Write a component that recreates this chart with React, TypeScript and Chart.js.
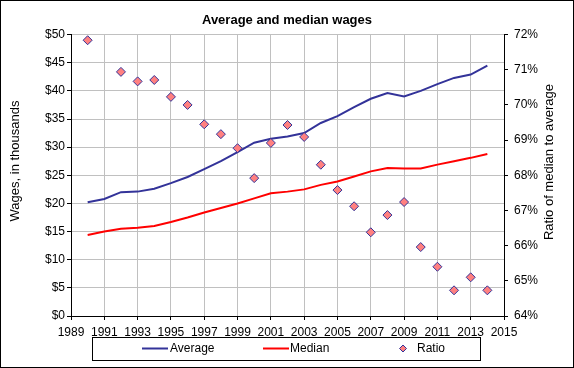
import React, { useEffect, useRef } from 'react';
import { Chart, registerables } from 'chart.js';

Chart.register(...registerables);

// ---- Data ----
const years = [1990, 1991, 1992, 1993, 1994, 1995, 1996, 1997, 1998, 1999, 2000, 2001, 2002, 2003, 2004, 2005, 2006, 2007, 2008, 2009, 2010, 2011, 2012, 2013, 2014];
const averageWages = [20.2, 20.8, 22.0, 22.1, 22.6, 23.6, 24.7, 26.1, 27.5, 29.1, 30.8, 31.5, 31.9, 32.5, 34.3, 35.5, 37.1, 38.6, 39.6, 39.0, 40.0, 41.2, 42.3, 42.9, 44.5];
const medianWages = [14.4, 15.0, 15.5, 15.7, 16.0, 16.7, 17.5, 18.4, 19.2, 20.0, 20.9, 21.8, 22.1, 22.5, 23.3, 23.9, 24.8, 25.7, 26.3, 26.2, 26.2, 26.9, 27.5, 28.1, 28.8];
const ratioYears = [1990, 1992, 1993, 1994, 1995, 1996, 1997, 1998, 1999, 2000, 2001, 2002, 2003, 2004, 2005, 2006, 2007, 2008, 2009, 2010, 2011, 2012, 2013, 2014];
const ratioPct = [71.84, 70.94, 70.67, 70.71, 70.23, 70.0, 69.45, 69.17, 68.77, 67.92, 68.92, 69.43, 69.09, 68.3, 67.58, 67.12, 66.38, 66.87, 67.24, 65.96, 65.4, 64.73, 65.1, 64.73];

// ---- Axis tick ranges ----
const yearMin = 1989;
const yearMax = 2015;
const yearStep = 2;
const wageMin = 0;
const wageMax = 50;
const wageStep = 5;
const ratioMin = 64;
const ratioMax = 72;
const ratioStep = 1;

// ---- Text ----
const chartTitle = 'Average and median wages';
const leftAxisTitle = 'Wages, in thousands';
const rightAxisTitle = 'Ratio of median to average';
const seriesNames = ['Average', 'Median', 'Ratio'];

const FONT = '"Liberation Sans", Arial, sans-serif';
const NAVY = '#333399';
const RED = '#ff0000';
const PINK = '#ff8080';
const GRID = '#c0c0c0';

const decorPlugin = {
  id: 'decor',
  afterDraw(chart: any) {
    const ctx = chart.ctx as CanvasRenderingContext2D;
    const W = chart.width;
    const H = chart.height;
    ctx.save();
    ctx.fillStyle = '#000';
    ctx.font = `13px ${FONT}`;
    ctx.textAlign = 'center';
    ctx.textBaseline = 'middle';
    // left axis title
    ctx.save();
    ctx.translate(15.5, 161);
    ctx.rotate(-Math.PI / 2);
    ctx.fillText(leftAxisTitle, 0, 0);
    ctx.restore();
    // right axis title
    ctx.save();
    ctx.translate(549, 162);
    ctx.rotate(-Math.PI / 2);
    ctx.fillText(rightAxisTitle, 0, 0);
    ctx.restore();

    // legend
    const ly = 348.5;
    ctx.strokeStyle = '#000';
    ctx.lineWidth = 1;
    ctx.strokeRect(92.5, 337.5, 388, 23);
    ctx.font = `12px ${FONT}`;
    ctx.textAlign = 'left';
    const ds = chart.data.datasets;
    // Average
    ctx.strokeStyle = ds[0].borderColor;
    ctx.lineWidth = 2;
    ctx.beginPath();
    ctx.moveTo(142, ly);
    ctx.lineTo(168, ly);
    ctx.stroke();
    ctx.fillText(ds[0].label, 170, ly);
    // Median
    ctx.strokeStyle = ds[1].borderColor;
    ctx.beginPath();
    ctx.moveTo(263, ly);
    ctx.lineTo(289, ly);
    ctx.stroke();
    ctx.fillText(ds[1].label, 290, ly);
    // Ratio
    const cx = 403, r = 3.5;
    ctx.beginPath();
    ctx.moveTo(cx, ly - r);
    ctx.lineTo(cx + r, ly);
    ctx.lineTo(cx, ly + r);
    ctx.lineTo(cx - r, ly);
    ctx.closePath();
    ctx.fillStyle = ds[2].backgroundColor;
    ctx.fill();
    ctx.strokeStyle = ds[2].borderColor;
    ctx.lineWidth = 1;
    ctx.stroke();
    ctx.fillStyle = '#000';
    ctx.fillText(ds[2].label, 417, ly);

    // outer frame
    ctx.strokeStyle = '#000';
    ctx.lineWidth = 1;
    ctx.strokeRect(0.5, 0.5, W - 1, H - 1);
    ctx.restore();
  },
};

export default function App() {
  const canvasRef = useRef<HTMLCanvasElement | null>(null);

  useEffect(() => {
    if (!canvasRef.current) return;
    Chart.defaults.color = '#000';
    const chart = new Chart(canvasRef.current, {
      type: 'line',
      data: {
        datasets: [
          {
            label: seriesNames[0],
            data: years.map((x, i) => ({ x, y: averageWages[i] })),
            borderColor: NAVY,
            backgroundColor: NAVY,
            borderWidth: 2,
            pointRadius: 0,
            tension: 0,
            yAxisID: 'y',
            order: 2,
          },
          {
            label: seriesNames[1],
            data: years.map((x, i) => ({ x, y: medianWages[i] })),
            borderColor: RED,
            backgroundColor: RED,
            borderWidth: 2,
            pointRadius: 0,
            tension: 0,
            yAxisID: 'y',
            order: 3,
          },
          {
            label: seriesNames[2],
            data: ratioYears.map((x, i) => ({ x, y: ratioPct[i] })),
            showLine: false,
            borderColor: NAVY,
            backgroundColor: PINK,
            pointStyle: 'rectRot',
            pointRadius: 4.5,
            pointBorderWidth: 1,
            yAxisID: 'y1',
            order: 1,
          },
        ],
      },
      options: {
        responsive: false,
        animation: false,
        devicePixelRatio: 1,
        layout: { padding: 0 },
        plugins: {
          legend: { display: false },
          tooltip: { enabled: false },
          title: {
            display: true,
            text: chartTitle,
            color: '#000',
            font: { family: FONT, size: 13, weight: 'bold' },
            padding: { top: 13, bottom: 6 },
          },
        },
        scales: {
          x: {
            type: 'linear',
            min: yearMin,
            max: yearMax,
            ticks: {
              stepSize: yearStep,
              autoSkip: false,
              maxRotation: 0,
              padding: 5,
              font: { family: FONT, size: 12 },
              color: '#000',
              callback: (v: any) => String(v),
            },
            grid: { color: GRID, tickColor: '#000', tickLength: 4 },
            border: { color: '#000', width: 1 },
            afterFit: (s: any) => { s.height = 52; },
          },
          y: {
            position: 'left',
            min: wageMin,
            max: wageMax,
            ticks: {
              stepSize: wageStep,
              padding: 2,
              font: { family: FONT, size: 12 },
              color: '#000',
              callback: (v: any) => '$' + v,
            },
            grid: { color: GRID, tickColor: '#000', tickLength: 4 },
            border: { color: '#000', width: 1 },
            afterFit: (s: any) => { s.width = 71; },
          },
          y1: {
            position: 'right',
            min: ratioMin,
            max: ratioMax,
            ticks: {
              stepSize: ratioStep,
              padding: 6,
              font: { family: FONT, size: 12 },
              color: '#000',
              callback: (v: any) => v + '%',
            },
            grid: { drawOnChartArea: false, color: '#000', tickColor: '#000', tickLength: 4 },
            border: { color: '#000', width: 1 },
            afterFit: (s: any) => { s.width = 70; },
          },
        },
      },
      plugins: [decorPlugin],
    } as any);
    return () => chart.destroy();
  }, []);

  return (
    <div style={{ position: 'fixed', left: 0, top: 0, width: 574, height: 368, background: '#fff' }}>
      <canvas ref={canvasRef} width={574} height={368} style={{ display: 'block' }} />
    </div>
  );
}
